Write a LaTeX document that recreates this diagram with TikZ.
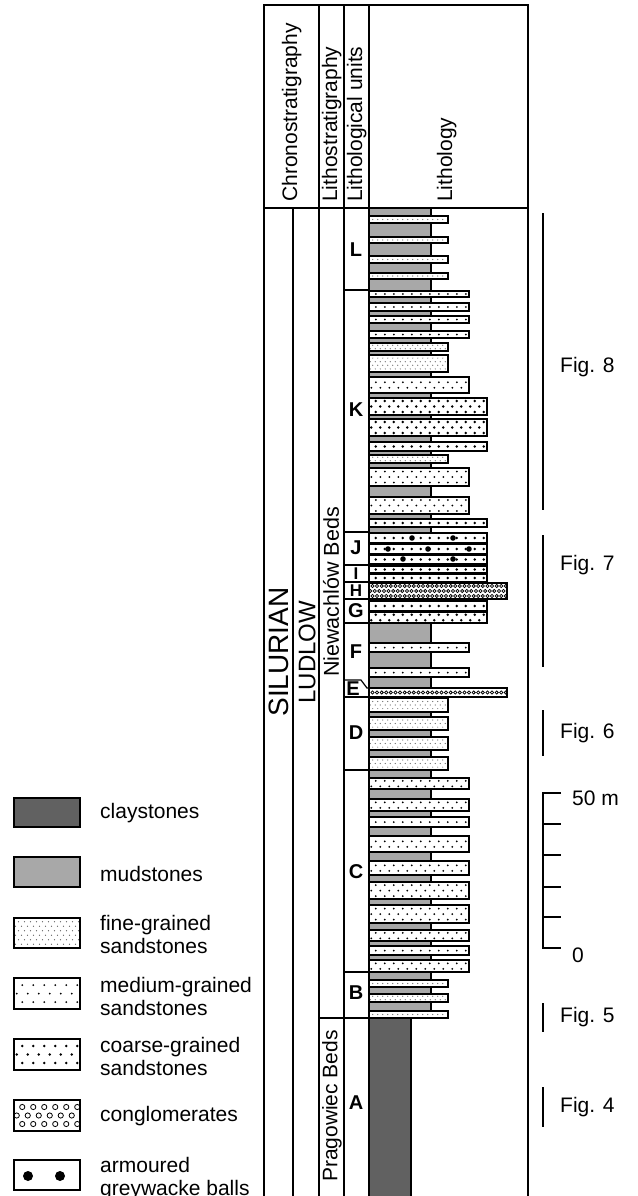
\documentclass[tikz,border=0pt]{standalone}
\usepackage{fontspec}
\setmainfont{Liberation Sans}
\definecolor{mud}{gray}{0.66}
\definecolor{clay}{gray}{0.38}
\tikzset{
  frame/.style={line width=1.2pt},
  bedline/.style={line width=1.1pt},
  hdr/.style={rotate=90, anchor=base west, inner sep=0pt, font=\fontsize{21}{23}\selectfont},
  vlab/.style={rotate=90, inner sep=0pt},
  unit/.style={inner sep=0pt, font=\bfseries\fontsize{20}{22}\selectfont},
  smallunit/.style={inner sep=0pt, font=\bfseries\fontsize{17}{18}\selectfont},
  figlab/.style={anchor=west, inner sep=0pt, font=\fontsize{21}{23}\selectfont},
  leg/.style={anchor=west, align=left, inner sep=0pt, font=\fontsize{21}{23}\selectfont},
  figbar/.style={line width=1.3pt},
}
% #1 x1, #2 y1, #3 x2, #4 y2, #5 dx, #6 dy, #7 radius, #8 style
\newcommand\dotgrid[8]{%
  \pgfmathtruncatemacro\nrows{max(1,floor((#4-#2)/#6))}%
  \pgfmathsetmacro\yfirst{#2+((#4-#2)-(\nrows-1)*#6)/2}%
  \pgfmathtruncatemacro\ncols{floor((#3-#1)/#5)+1}%
  \foreach \ri in {1,...,\nrows}{%
    \pgfmathsetmacro\yy{\yfirst+(\ri-1)*#6}%
    \pgfmathsetmacro\xo{#1+#5*(0.25+0.5*mod(\ri,2))}%
    \foreach \ci in {0,...,\ncols}{%
      \path[#8] ({\xo+\ci*#5},\yy) circle[radius=#7pt];
    }%
  }%
}
% #1 y1, #2 y2, #3 right x, #4 pattern
\newcommand\bedbox[4]{%
  \fill[white] (369,#1) rectangle (#3,#2);
  \begin{scope}\clip (369,#1) rectangle (#3,#2); #4 \end{scope}
  \draw[bedline] (369,#1) rectangle (#3,#2);
}
\newcommand\fineb[2]{\bedbox{#1}{#2}{448}{\dotgrid{369}{#1}{448}{#2}{5}{3.6}{0.6}{fill=black!60}}}
\newcommand\medb[2]{\bedbox{#1}{#2}{469}{\dotgrid{369}{#1}{469}{#2}{9}{5.5}{1.0}{fill=black}}}
\newcommand\coarseb[2]{\bedbox{#1}{#2}{487}{\dotgrid{369}{#1}{487}{#2}{9}{5.5}{1.3}{fill=black}}}
\newcommand\congb[2]{\bedbox{#1}{#2}{507}{\dotgrid{369}{#1}{507}{#2}{4.6}{5}{1.6}{draw=black,line width=0.75pt}}}
\begin{document}
\begin{tikzpicture}[x=1pt,y=-1pt]
\useasboundingbox (0,0) rectangle (637,1196);
\clip (0,0) rectangle (637,1196);

% ---------- lithology column ----------
\draw[bedline, fill=mud] (369,208) rectangle (431,1018);
\draw[bedline, fill=clay] (369,1018) rectangle (411,1215);

% L
\fineb{216}{223}\fineb{237}{243}\fineb{256}{263}\fineb{273}{279}
% K
\medb{291}{297}\medb{303}{311}\medb{316}{323}\medb{331}{338}
\fineb{343}{351}\fineb{355}{372}
\medb{377}{393}
\coarseb{398}{415}\coarseb{419}{436}\coarseb{442}{451}
\fineb{455}{463}
\medb{468}{486}\medb{497}{514}
\coarseb{519}{527}
% J
\coarseb{533}{543}\coarseb{544}{554}\coarseb{555}{564}
\foreach \bx/\by in {412/538,453/538,388/549,428/549,469/549,403/559,453/559}
  \fill (\bx,\by) circle[radius=2.8pt];
% I
\coarseb{566}{573}\coarseb{574}{582}
% H
\congb{583}{599}
% G
\coarseb{601}{611}\coarseb{612}{623}
% F
\medb{643}{652}\medb{668}{677}
% E
\congb{688}{697}
% D
\fineb{698}{712}\fineb{717}{730}\fineb{737}{750}\fineb{757}{770}
% C
\medb{778}{789}\medb{799}{811}\medb{817}{827}\medb{836}{852}\medb{861}{875}
\medb{882}{899}\medb{905}{923}\medb{930}{941}\medb{946}{955}\medb{960}{972}
% B
\fineb{980}{987}\fineb{994}{1002}\fineb{1011}{1018}

% ---------- frame ----------
\draw[frame] (264,1215) -- (264,5) -- (528,5) -- (528,1215);
\draw[frame] (264,208) -- (528,208);
\foreach \vx in {319,344,369} \draw[frame] (\vx,5) -- (\vx,1215);
\draw[frame] (293,208) -- (293,1215);
\foreach \hy in {290,532,565,582,599,623,697,770,972}
  \draw[frame] (344,\hy) -- (369,\hy);
\draw[frame] (344,680) -- (361,680) -- (367,688) -- (369,688);
\draw[frame] (319,1018) -- (369,1018);

% ---------- header ----------
\node[hdr] (hchrono) at (297,202) {Chronostratigraphy};
\node[hdr] (hlitho) at (337,202) {Lithostratigraphy};
\node[hdr] (hunits) at (362,202) {Lithological units};
\node[hdr] (hlith) at (452,202) {Lithology};

% ---------- strat labels ----------
\node[vlab, font=\fontsize{28}{30}\selectfont] (silurian) at (279,652) {SILURIAN};
\node[vlab, font=\fontsize{24}{26}\selectfont] (ludlow) at (307,652) {LUDLOW};
\node[vlab, font=\fontsize{21.5}{23}\selectfont] (niew) at (331,592) {Niewachlów Beds};
\node[vlab, font=\fontsize{21}{23}\selectfont] (prag) at (332,1106) {Pragowiec Beds};

% ---------- unit letters ----------
\node[unit] (uL) at (356,250) {L};
\node[unit] (uK) at (356,410) {K};
\node[unit] (uJ) at (356,548) {J};
\node[smallunit] (uI) at (356,573.5) {I};
\node[smallunit] (uH) at (356,591) {H};
\node[unit] (uG) at (356,611) {G};
\node[unit] (uF) at (356,652) {F};
\node[unit] (uE) at (353,689) {E};
\node[unit] (uD) at (356,733) {D};
\node[unit] (uC) at (356,872) {C};
\node[unit] (uB) at (356,993) {B};
\node[unit] (uA) at (356,1103) {A};

% ---------- figure bars ----------
\coordinate (f8a) at (543,213); \coordinate (f8b) at (543,510);
\coordinate (f7a) at (543,535); \coordinate (f7b) at (543,667);
\coordinate (f6a) at (543,710); \coordinate (f6b) at (543,756);
\coordinate (f5a) at (543,1003); \coordinate (f5b) at (543,1032);
\coordinate (f4a) at (543,1087); \coordinate (f4b) at (543,1127);
\draw[figbar] (f8a) -- (f8b);
\draw[figbar] (f7a) -- (f7b);
\draw[figbar] (f6a) -- (f6b);
\draw[figbar] (f5a) -- (f5b);
\draw[figbar] (f4a) -- (f4b);
\node[figlab] (fig8) at (560,367) {Fig. 8};
\node[figlab] (fig7) at (560,565) {Fig. 7};
\node[figlab] (fig6) at (560,733) {Fig. 6};
\node[figlab] (fig5) at (560,1017) {Fig. 5};
\node[figlab] (fig4) at (560,1107) {Fig. 4};

% ---------- scale bar ----------
\coordinate (sTop) at (543,793); \coordinate (sBot) at (543,948);
\draw[figbar] (561,793) -- (sTop) -- (sBot) -- (561,948);
\foreach \ty in {824,855,887,917} \draw[figbar] (543,\ty) -- (561,\ty);
\node[figlab] (s50) at (572,798) {50 m};
\node[figlab] (s0) at (572,955) {0};

% ---------- legend ----------
\draw[bedline, fill=clay] (14,798) rectangle (80,827);
\node[leg] (lclay) at (100,813) {claystones};
\draw[bedline, fill=mud] (14,857) rectangle (80,887);
\node[leg] (lmud) at (100,874) {mudstones};
\begin{scope}\clip (14,918) rectangle (80,948);
  \dotgrid{14}{918}{80}{948}{6}{4.5}{0.6}{fill=black!65}\end{scope}
\draw[bedline] (14,918) rectangle (80,948);
\node[leg] (lfine) at (100,934) {fine-grained\\sandstones};
\begin{scope}\clip (14,978) rectangle (80,1009);
  \dotgrid{14}{978}{80}{1009}{11}{8.5}{1.0}{fill=black}\end{scope}
\draw[bedline] (14,978) rectangle (80,1009);
\node[leg] (lmed) at (100,996) {medium-grained\\sandstones};
\begin{scope}\clip (14,1039) rectangle (80,1070);
  \dotgrid{14}{1039}{80}{1070}{11}{8.5}{1.4}{fill=black}\end{scope}
\draw[bedline] (14,1039) rectangle (80,1070);
\node[leg] (lcoarse) at (100,1056) {coarse-grained\\sandstones};
\begin{scope}\clip (14,1100) rectangle (80,1131);
  \dotgrid{14}{1100}{80}{1131}{11}{8.5}{2.6}{draw=black,line width=0.8pt}\end{scope}
\draw[bedline] (14,1100) rectangle (80,1131);
\node[leg] (lcong) at (100,1116) {conglomerates};
\draw[bedline] (14,1160) rectangle (80,1190);
\fill (28,1176) circle[radius=5pt];
\fill (60,1176) circle[radius=5pt];
\node[leg] (larm) at (100,1179) {armoured\\greywacke balls};
\end{tikzpicture}
\end{document}
